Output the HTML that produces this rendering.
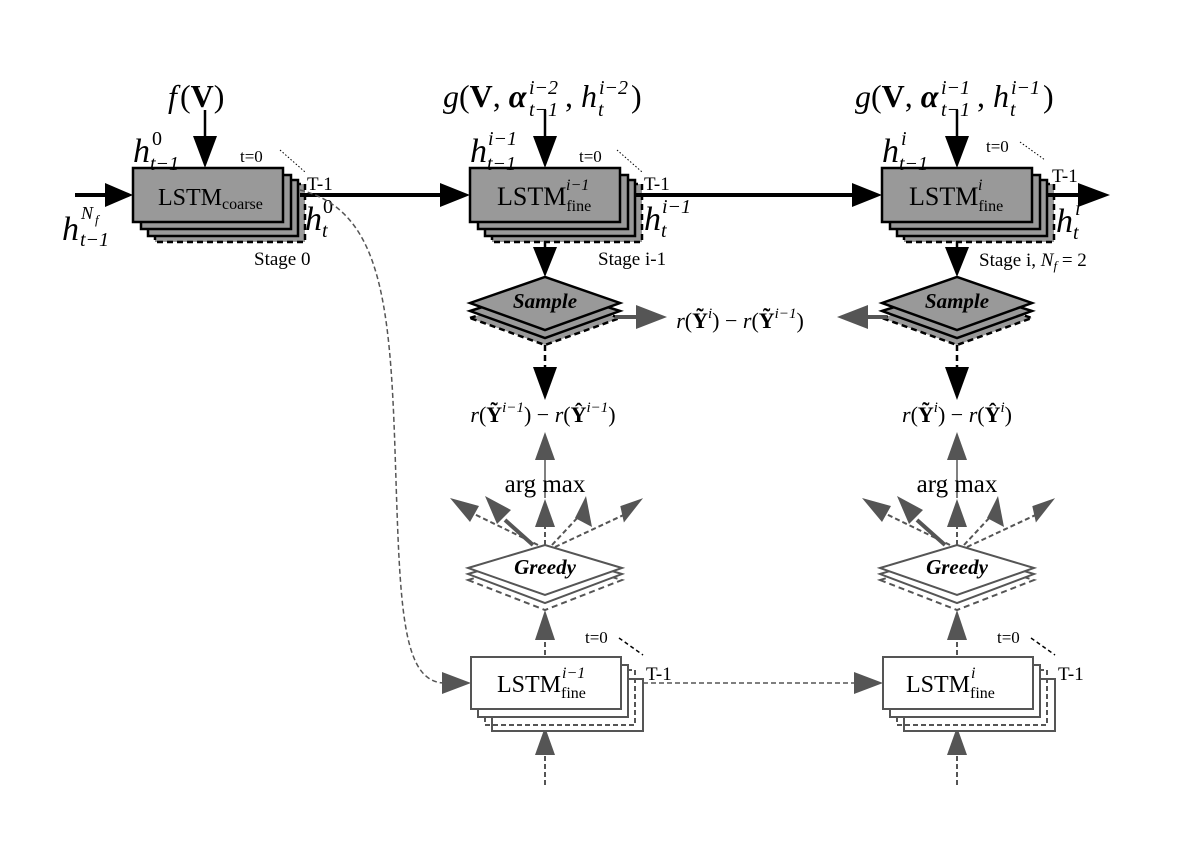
<!DOCTYPE html>
<html><head><style>
body{margin:0;background:#fff}
svg{display:block}
text{font-family:"Liberation Serif",serif;fill:#000}
.i{font-style:italic}
.b{font-weight:bold}
</style></head><body>
<svg width="1204" height="859" viewBox="0 0 1204 859" xmlns="http://www.w3.org/2000/svg">

<g stroke="#000" stroke-width="2.5">
 <rect x="155" y="184" width="150" height="58" fill="#999" stroke-dasharray="6,4"/>
 <rect x="148" y="180" width="150" height="56" fill="#999"/>
 <rect x="141" y="175" width="150" height="54" fill="#999"/>
 <rect x="133" y="168" width="150" height="54" fill="#999"/>
 <rect x="492" y="184" width="150" height="58" fill="#999" stroke-dasharray="6,4"/>
 <rect x="485" y="180" width="150" height="56" fill="#999"/>
 <rect x="478" y="175" width="150" height="54" fill="#999"/>
 <rect x="470" y="168" width="150" height="54" fill="#999"/>
 <rect x="904" y="184" width="150" height="58" fill="#999" stroke-dasharray="6,4"/>
 <rect x="897" y="180" width="150" height="56" fill="#999"/>
 <rect x="890" y="175" width="150" height="54" fill="#999"/>
 <rect x="882" y="168" width="150" height="54" fill="#999"/>
</g>
<text x="158" y="205" font-size="24">LSTM<tspan font-size="16" dy="4">coarse</tspan></text>
<text x="497" y="205" font-size="26">LSTM<tspan font-size="16" dy="6">fine</tspan></text>
<text x="566" y="190" font-size="16" class="i">i−1</text>
<text x="909" y="205" font-size="26">LSTM<tspan font-size="16" dy="6">fine</tspan></text>
<text x="978" y="190" font-size="16" class="i">i</text>

<g stroke="#000" stroke-width="4" fill="none">
 <line x1="75" y1="195" x2="110" y2="195"/>
 <line x1="300" y1="195" x2="445" y2="195"/>
 <line x1="636" y1="195" x2="858" y2="195"/>
 <line x1="1048" y1="195" x2="1080" y2="195"/>
</g>
<g fill="#000">
 <path d="M105,183 L133,195 L105,207z"/>
 <path d="M440,183 L470,195 L440,207z"/>
 <path d="M852,183 L882,195 L852,207z"/>
 <path d="M1078,183 L1110,195 L1078,207z"/>
</g>
<g stroke="#000" stroke-width="2.5"><line x1="205" y1="110" x2="205" y2="140"/><line x1="545" y1="110" x2="545" y2="140"/><line x1="957" y1="110" x2="957" y2="140"/>
<line x1="545" y1="242" x2="545" y2="250"/><line x1="957" y1="242" x2="957" y2="250"/></g>
<g fill="#000">
 <path d="M193,136 L205,168 L217,136z"/>
 <path d="M533,136 L545,168 L557,136z"/>
 <path d="M945,136 L957,168 L969,136z"/>
 <path d="M533,247 L545,277 L557,247z"/>
 <path d="M945,247 L957,277 L969,247z"/>
</g>
<g stroke="#000" stroke-width="1" stroke-dasharray="1.5,2" fill="none">
 <line x1="280" y1="150" x2="305" y2="172"/>
 <line x1="617" y1="150" x2="642" y2="172"/>
 <line x1="1020" y1="142" x2="1045" y2="160"/>
</g>

<!-- stage 0 labels -->
<text x="168" y="107" font-size="32" class="i">f</text><text x="180" y="107" font-size="32">(<tspan class="b">V</tspan>)</text>
<text x="133" y="162" font-size="34" class="i">h</text><text x="152" y="145" font-size="20">0</text><text x="150" y="170" font-size="20" class="i">t−1</text>
<text x="62" y="240" font-size="34" class="i">h</text><text x="81" y="219" font-size="18" class="i">N</text><text x="95" y="224" font-size="13" class="i">f</text><text x="80" y="246" font-size="20" class="i">t−1</text>
<text x="240" y="162" font-size="17">t=0</text>
<text x="307" y="190" font-size="19">T-1</text>
<text x="305" y="230" font-size="34" class="i">h</text><text x="323" y="213" font-size="20">0</text><text x="322" y="237" font-size="20" class="i">t</text>
<text x="254" y="265" font-size="19">Stage 0</text>

<!-- stage i-1 labels -->
<text x="443" y="107" font-size="32"><tspan class="i">g</tspan>(<tspan class="b">V</tspan>, <tspan class="b i">α</tspan></text>
<text x="529" y="94" font-size="20" class="i">i−2</text><text x="529" y="116" font-size="20" class="i">t−1</text>
<text x="565" y="107" font-size="32">, <tspan class="i">h</tspan></text>
<text x="599" y="94" font-size="20" class="i">i−2</text><text x="598" y="116" font-size="20" class="i">t</text>
<text x="631" y="107" font-size="32">)</text>
<text x="470" y="162" font-size="34" class="i">h</text><text x="488" y="145" font-size="20" class="i">i−1</text><text x="487" y="170" font-size="20" class="i">t−1</text>
<text x="579" y="162" font-size="17">t=0</text>
<text x="644" y="190" font-size="19">T-1</text>
<text x="644" y="230" font-size="34" class="i">h</text><text x="662" y="213" font-size="20" class="i">i−1</text><text x="661" y="237" font-size="20" class="i">t</text>
<text x="598" y="265" font-size="19">Stage i-1</text>

<!-- stage i labels -->
<text x="855" y="107" font-size="32"><tspan class="i">g</tspan>(<tspan class="b">V</tspan>, <tspan class="b i">α</tspan></text>
<text x="941" y="94" font-size="20" class="i">i−1</text><text x="941" y="116" font-size="20" class="i">t−1</text>
<text x="977" y="107" font-size="32">, <tspan class="i">h</tspan></text>
<text x="1011" y="94" font-size="20" class="i">i−1</text><text x="1010" y="116" font-size="20" class="i">t</text>
<text x="1043" y="107" font-size="32">)</text>
<text x="882" y="162" font-size="34" class="i">h</text><text x="901" y="145" font-size="20" class="i">i</text><text x="899" y="170" font-size="20" class="i">t−1</text>
<text x="986" y="152" font-size="17">t=0</text>
<text x="1052" y="182" font-size="19">T-1</text>
<text x="1056" y="232" font-size="34" class="i">h</text><text x="1075" y="215" font-size="20" class="i">i</text><text x="1073" y="239" font-size="20" class="i">t</text>
<text x="979" y="266" font-size="19">Stage i, <tspan class="i">N<tspan font-size="13" dy="4">f</tspan></tspan><tspan dy="-4"> = 2</tspan></text>

<g stroke="#000" stroke-width="2.5" fill="#999">
 <path d="M470,318 L545,294 L620,318 L545,345z" stroke-dasharray="6,4"/>
 <path d="M470,311 L545,287 L620,311 L545,338z"/>
 <path d="M470,303 L545,277 L620,303 L545,330z"/>
 <path d="M882,318 L957,294 L1032,318 L957,345z" stroke-dasharray="6,4"/>
 <path d="M882,311 L957,287 L1032,311 L957,338z"/>
 <path d="M882,303 L957,277 L1032,303 L957,330z"/>
</g>
<text x="545" y="308" font-size="21" class="i b" text-anchor="middle">Sample</text>
<text x="957" y="308" font-size="21" class="i b" text-anchor="middle">Sample</text>
<g stroke="#555" stroke-width="4"><line x1="615" y1="317" x2="640" y2="317"/><line x1="862" y1="317" x2="887" y2="317"/></g>
<g fill="#555"><path d="M636,305 L667,317 L636,329z"/><path d="M868,305 L837,317 L868,329z"/></g>
<text x="740" y="328" font-size="22" text-anchor="middle"><tspan class="i">r</tspan>(<tspan class="b">Ỹ</tspan><tspan font-size="15" class="i" dy="-10">i</tspan><tspan dy="10">) − </tspan><tspan class="i">r</tspan>(<tspan class="b">Ỹ</tspan><tspan font-size="15" class="i" dy="-10">i−1</tspan><tspan dy="10">)</tspan></text>
<g stroke="#000" stroke-width="2.5" stroke-dasharray="6,4"><line x1="545" y1="345" x2="545" y2="370"/><line x1="957" y1="345" x2="957" y2="370"/></g>
<g fill="#000"><path d="M533,367 L545,400 L557,367z"/><path d="M945,367 L957,400 L969,367z"/></g>
<text x="543" y="422" font-size="22" text-anchor="middle"><tspan class="i">r</tspan>(<tspan class="b">Ỹ</tspan><tspan font-size="15" class="i" dy="-10">i−1</tspan><tspan dy="10">) − </tspan><tspan class="i">r</tspan>(<tspan class="b">Ŷ</tspan><tspan font-size="15" class="i" dy="-10">i−1</tspan><tspan dy="10">)</tspan></text>
<text x="957" y="422" font-size="22" text-anchor="middle"><tspan class="i">r</tspan>(<tspan class="b">Ỹ</tspan><tspan font-size="15" class="i" dy="-10">i</tspan><tspan dy="10">) − </tspan><tspan class="i">r</tspan>(<tspan class="b">Ŷ</tspan><tspan font-size="15" class="i" dy="-10">i</tspan><tspan dy="10">)</tspan></text>

<g id="fan">
 <line x1="545" y1="455" x2="545" y2="498" stroke="#555" stroke-width="1.5"/>
 <path d="M535,460 L545,432 L555,460z" fill="#555"/>
 <text x="545" y="492" font-size="25" text-anchor="middle">arg max</text>
 <g stroke="#555" stroke-width="2" stroke-dasharray="5,3">
  <line x1="545" y1="545" x2="545" y2="525"/>
  <line x1="538" y1="545" x2="470" y2="512"/>
  <line x1="552" y1="545" x2="580" y2="515"/>
  <line x1="555" y1="547" x2="630" y2="512"/>
 </g>
 <line x1="533" y1="545" x2="505" y2="520" stroke="#555" stroke-width="4"/>
 <g fill="#555">
  <path d="M535,527 L545,499 L555,527z"/>
  <path d="M479,506 L450,498 L470,522z"/>
  <path d="M511,510 L485,496 L497,524z"/>
  <path d="M575,518 L586,496 L592,527z"/>
  <path d="M620,507 L642,497 L625,523z" transform="rotate(5 630 510)"/>
 </g>
</g>
<use href="#fan" x="412"/>

<g stroke="#555" stroke-width="2" fill="#fff">
 <path d="M468,580 L545,557 L622,580 L545,610z" stroke-dasharray="6,4"/>
 <path d="M468,574 L545,551 L622,574 L545,603z"/>
 <path d="M468,568 L545,545 L622,568 L545,595z"/>
 <path d="M880,580 L957,557 L1034,580 L957,610z" stroke-dasharray="6,4"/>
 <path d="M880,574 L957,551 L1034,574 L957,603z"/>
 <path d="M880,568 L957,545 L1034,568 L957,595z"/>
</g>
<text x="545" y="574" font-size="21" class="i b" text-anchor="middle">Greedy</text>
<text x="957" y="574" font-size="21" class="i b" text-anchor="middle">Greedy</text>

<g stroke="#555" stroke-width="2" stroke-dasharray="5,3">
 <line x1="545" y1="655" x2="545" y2="635"/><line x1="957" y1="655" x2="957" y2="635"/>
 <line x1="545" y1="785" x2="545" y2="750"/><line x1="957" y1="785" x2="957" y2="750"/>
</g>
<g fill="#555">
 <path d="M535,640 L545,610 L555,640z"/><path d="M947,640 L957,610 L967,640z"/>
 <path d="M535,755 L545,727 L555,755z"/><path d="M947,755 L957,727 L967,755z"/>
</g>

<g stroke="#555" stroke-width="2" fill="#fff">
 <rect x="492" y="679" width="151" height="52"/>
 <path d="M485,717 L485,725 L635,725 L635,670 L628,670" stroke-dasharray="5,3" fill="none"/>
 <rect x="478" y="665" width="150" height="52"/>
 <rect x="471" y="657" width="150" height="52"/>
 <rect x="904" y="679" width="151" height="52"/>
 <path d="M897,717 L897,725 L1047,725 L1047,670 L1040,670" stroke-dasharray="5,3" fill="none"/>
 <rect x="890" y="665" width="150" height="52"/>
 <rect x="883" y="657" width="150" height="52"/>
</g>
<text x="497" y="692" font-size="24">LSTM<tspan font-size="16" dy="6">fine</tspan></text>
<text x="562" y="678" font-size="16" class="i">i−1</text>
<text x="906" y="692" font-size="24">LSTM<tspan font-size="16" dy="6">fine</tspan></text>
<text x="971" y="678" font-size="16" class="i">i</text>
<text x="585" y="643" font-size="17">t=0</text>
<text x="646" y="680" font-size="19">T-1</text>
<text x="997" y="643" font-size="17">t=0</text>
<text x="1058" y="680" font-size="19">T-1</text>
<g stroke="#000" stroke-width="1.5" stroke-dasharray="4,3">
 <line x1="619" y1="638" x2="643" y2="655"/><line x1="1031" y1="638" x2="1055" y2="655"/>
</g>

<g stroke="#555" stroke-width="1.5" stroke-dasharray="5,3" fill="none">
 <path d="M300,190 C380,210 390,300 395,450 C400,600 400,683 445,683"/>
 <line x1="643" y1="683" x2="858" y2="683"/>
</g>
<g fill="#555"><path d="M442,672 L471,683 L442,694z"/><path d="M854,672 L883,683 L854,694z"/></g>
</svg>
</body></html>
